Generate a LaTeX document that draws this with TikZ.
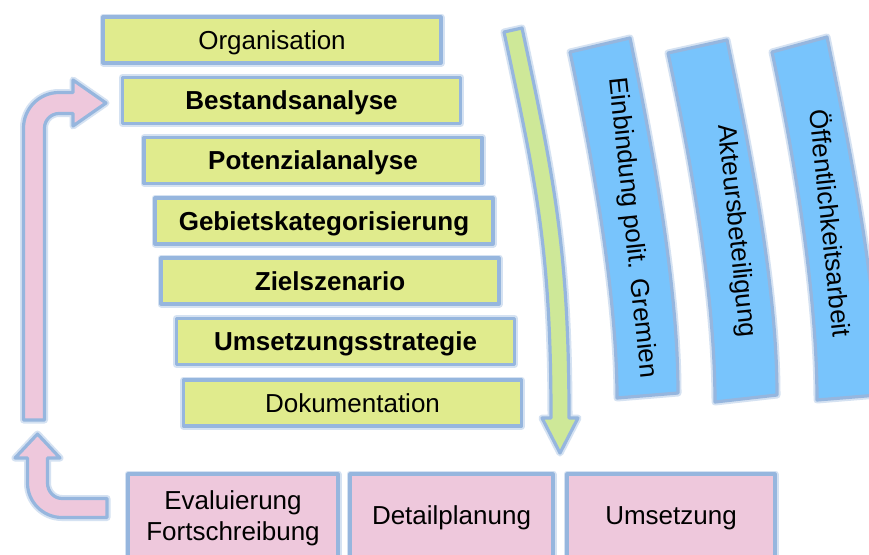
\documentclass[tikz,border=0pt]{standalone}
\usepackage{fontspec}
\setmainfont{Liberation Sans}
\definecolor{boxgreen}{RGB}{224,235,141}
\definecolor{boxpink}{RGB}{238,200,220}
\definecolor{bandblue}{RGB}{120,196,252}
\definecolor{arrgreen}{RGB}{206,232,152}
\definecolor{edgeblue}{RGB}{150,182,222}
\tikzset{
  glow/.style={preaction={draw=edgeblue!40, line width=7pt, line join=round}, draw=edgeblue, line width=3.2pt, line join=round},
  lbl/.style={font=\fontsize{26}{31}\selectfont, text=black},
  gbox/.style={glow, fill=boxgreen, lbl, minimum width=338pt, minimum height=46pt, inner sep=0pt, text height=18pt, text depth=0pt},
  pbox/.style={glow, fill=boxpink, lbl, minimum height=83pt, align=center, inner sep=0pt},
  band/.style={glow, fill=bandblue},
  bandtext/.style={lbl, rotate=-84, inner sep=0pt},
  pinkarrow/.style={glow, fill=boxpink},
  greenarrow/.style={glow, fill=arrgreen}
}
\begin{document}
\begin{tikzpicture}[x=1pt,y=-1pt]
\useasboundingbox (0,0) rectangle (869,554);
\fill[white] (0,0) rectangle (869,554);

% staircase of steps
\node[gbox] (org) at (272,40) {Organisation};
\node[gbox] (best) at (291.5,100.5) {\bfseries Bestandsanalyse};
\node[gbox] (pot) at (313,160.5) {\bfseries Potenzialanalyse};
\node[gbox] (geb) at (324,221) {\bfseries Gebietskategorisierung};
\node[gbox] (ziel) at (330,281) {\bfseries Zielszenario};
\node[gbox] (ums) at (345.5,341.5) {\bfseries Umsetzungsstrategie};
\node[gbox] (dok) at (352.5,403) {Dokumentation};

% bottom boxes
\node[pbox, minimum width=210pt] (eval) at (233,515.5) {};
\node[lbl, align=center] (evaltxt) at ([yshift=-3pt]eval.center) {Evaluierung\\Fortschreibung};
\node[pbox, minimum width=203pt, text height=18pt, text depth=0pt] (detail) at (451.5,515.5) {Detailplanung};
\node[pbox, minimum width=208pt, text height=18pt, text depth=0pt] (umsetz) at (671,515.5) {Umsetzung};

% blue bands
\path[band] (570,52) -- (630,38) .. controls (655,160) and (678,290) .. (678,393)
  -- (617,398) .. controls (617,300) and (595,170) .. (570,52) -- cycle;
\path[band] (668,53) -- (727,40) .. controls (752,160) and (777,290) .. (777,395)
  -- (715,402) .. controls (715,300) and (693,170) .. (668,53) -- cycle;
\path[band] (772,52) -- (827,37) .. controls (852,160) and (878,290) .. (878,395)
  -- (817,400) .. controls (817,300) and (797,170) .. (772,52) -- cycle;
\node[bandtext] (b1) at (632,228) {Einbindung polit. Gremien};
\node[bandtext] (b2) at (736,231) {Akteursbeteiligung};
\node[bandtext] (b3) at (832,223) {Öffentlichkeitsarbeit};

% green process arrow
\coordinate (gtip) at (560,453);
\path[greenarrow] (504,32) -- (522,28) .. controls (554,178) and (569,250) .. (569,418)
  -- (578,418) -- (gtip) -- (542,418) -- (551,418)
  .. controls (551,250) and (536,182) .. (504,32) -- cycle;

% pink feedback arrows
\coordinate (ptip) at (106,103);
\path[pinkarrow] (23.5,420) -- (23.5,128) .. controls (23.5,108.4) and (39.4,92.5) .. (59,92.5)
  -- (73,92.5) -- (73,80) -- (ptip) -- (73,126) -- (73,113.5) -- (59,113.5)
  .. controls (51,113.5) and (44.5,120) .. (44.5,128) -- (44.5,420) -- cycle;
\coordinate (qtip) at (37.5,434);
\path[pinkarrow] (107,498.5) -- (62,498.5) .. controls (54,498.5) and (47.5,491.5) .. (47.5,483)
  -- (47.5,458) -- (60,458) -- (qtip) -- (15,458) -- (27.5,458) -- (27.5,483)
  .. controls (27.5,502) and (43,517.5) .. (62,517.5) -- (107,517.5) -- cycle;
\end{tikzpicture}
\end{document}
